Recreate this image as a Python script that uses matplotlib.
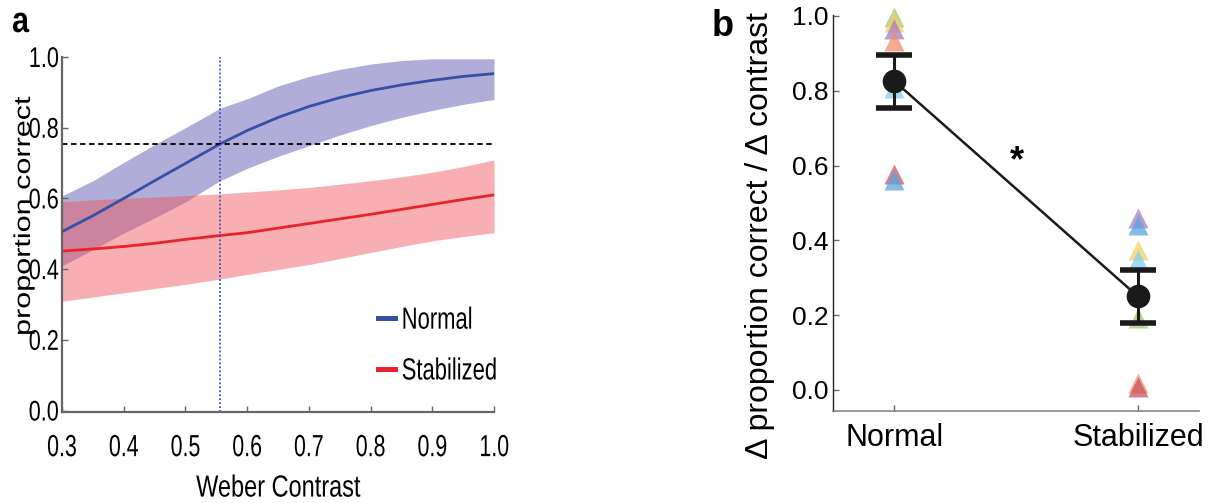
import numpy as np
import matplotlib
matplotlib.use("Agg")
import matplotlib.pyplot as plt
from matplotlib.patheffects import AbstractPathEffect
from matplotlib.transforms import Affine2D

plt.rcParams['font.family'] = ['Liberation Sans', 'DejaVu Sans']

# panel a: psychometric fits
contrast = [0.30, 0.35, 0.40, 0.45, 0.50, 0.556, 0.60, 0.65, 0.70, 0.75, 0.80, 0.85, 0.90, 0.95, 1.00]
normal_mean = [0.506, 0.551, 0.600, 0.650, 0.699, 0.754, 0.792, 0.829, 0.860, 0.885, 0.905, 0.921, 0.934, 0.945, 0.953]
normal_hi = [0.607, 0.650, 0.702, 0.752, 0.800, 0.855, 0.882, 0.918, 0.945, 0.965, 0.980, 0.990, 0.995, 0.995, 0.995]
normal_lo = [0.409, 0.455, 0.502, 0.545, 0.590, 0.650, 0.685, 0.719, 0.749, 0.779, 0.806, 0.829, 0.849, 0.866, 0.880]
stab_mean = [0.451, 0.457, 0.464, 0.473, 0.484, 0.495, 0.503, 0.516, 0.529, 0.542, 0.555, 0.569, 0.583, 0.597, 0.610]
stab_hi = [0.591, 0.596, 0.600, 0.604, 0.608, 0.613, 0.618, 0.624, 0.631, 0.640, 0.650, 0.661, 0.674, 0.690, 0.709]
stab_lo = [0.309, 0.321, 0.333, 0.345, 0.357, 0.372, 0.385, 0.399, 0.413, 0.430, 0.447, 0.464, 0.480, 0.492, 0.503]
threshold = 0.755
thr_contrast = 0.556

# panel b: slopes per subject
conditions = ['Normal', 'Stabilized']
subj_colors = ['#9fcb6b', '#f3cf6a', '#a97cc2', '#ef8f6b', '#7fd0ef', '#c85563', '#5ca5dc']
slope_normal = [0.997, 0.984, 0.966, 0.934, 0.807, 0.577, 0.561]
slope_stab = [0.192, 0.374, 0.459, 0.019, 0.347, 0.009, 0.441]
group_mean = [0.826, 0.250]
err_hi = [0.895, 0.322]
err_lo = [0.754, 0.178]


class Squeeze(AbstractPathEffect):
    # narrow the glyphs (panel a text is condensed in the original)
    def __init__(self, sx=1.0, sy=1.0, anchor='center'):
        super().__init__()
        self.sx, self.sy, self.anchor = sx, sy, anchor

    def draw_path(self, renderer, gc, tpath, affine, rgbFace=None):
        ext = tpath.get_extents()
        if self.anchor == 'center':
            cx = (ext.x0 + ext.x1) / 2
        elif self.anchor == 'right':
            cx = ext.x1
        else:
            cx = 0
        sq = Affine2D().translate(-cx, 0).scale(self.sx, self.sy).translate(cx, 0)
        renderer.draw_path(gc, tpath, sq + affine, rgbFace)


fig = plt.figure(figsize=(12.11, 5.03), dpi=100)

# ---- panel a
ax = fig.add_axes([0.0512, 0.1817, 0.3568, 0.705])
ax.fill_between(contrast, normal_lo, normal_hi, color='#5b57b0', alpha=0.48, lw=0)
ax.fill_between(contrast, stab_lo, stab_hi, color='#ee4f57', alpha=0.45, lw=0)
ax.plot(contrast, normal_mean, color='#3550a5', lw=2, label='Normal')
ax.plot(contrast, stab_mean, color='#e8242a', lw=2, label='Stabilized')
ax.axhline(threshold, color='black', lw=1.3, ls=(0, (3, 2)))
ax.axvline(thr_contrast, color='#3a55c0', lw=1.3, ls=(0, (1, 1.2)))
ax.set_xlim(0.3, 1.0)
ax.set_ylim(-0.003, 1.0)
ax.set_xticks(np.arange(0.3, 1.01, 0.1))
ax.set_yticks(np.arange(0, 1.01, 0.2))
ax.xaxis.set_major_formatter(matplotlib.ticker.FormatStrFormatter('%.1f'))
ax.yaxis.set_major_formatter(matplotlib.ticker.FormatStrFormatter('%.1f'))
for s in ['top', 'right']:
    ax.spines[s].set_visible(False)
for s in ['left', 'bottom']:
    ax.spines[s].set_color('#666666')
    ax.spines[s].set_linewidth(1.6)
ax.tick_params(direction='in', length=4, width=1, color='#666666')
ax.tick_params(axis='x', pad=15.5, labelsize=22)
ax.tick_params(axis='y', pad=2, labelsize=20.5)
for t in ax.get_xticklabels():
    t.set_path_effects([Squeeze(sx=0.70)])
for t in ax.get_yticklabels():
    t.set_path_effects([Squeeze(sx=0.76, anchor='right')])
ax.set_xlabel('Weber Contrast', fontsize=22, labelpad=7.5,
              path_effects=[Squeeze(sx=0.77)])
ax.set_ylabel('proportion correct', fontsize=22, path_effects=[Squeeze(sy=0.75)])
ax.yaxis.set_label_coords(-0.058, 0.55)
leg = ax.legend(loc='upper left', bbox_to_anchor=(0.731, 0.2987), frameon=False,
                fontsize=22, handlelength=0.56, handletextpad=0.22,
                labelspacing=0.68, borderpad=0, borderaxespad=0)
for h in leg.get_lines():
    h.set_linewidth(3.6)
for t in leg.get_texts():
    t.set_path_effects([Squeeze(sx=0.72, anchor='left')])

# ---- panel b
bx = fig.add_axes([0.688, 0.183, 0.302, 0.787])
xpos = np.arange(len(conditions))
for c, a, b in zip(subj_colors, slope_normal, slope_stab):
    bx.plot(xpos, [a, b], ls='none', marker='^', ms=14.5, color=c, alpha=0.75,
            mec='none', clip_on=False)
bx.plot(xpos, group_mean, color='#1a1a1a', lw=1.8)
yerr = [np.array(group_mean) - np.array(err_lo), np.array(err_hi) - np.array(group_mean)]
bx.errorbar(xpos, group_mean, yerr=yerr, fmt='o', color='#1a1a1a', ms=16,
            elinewidth=2.2, capsize=13, capthick=4)
bx.text(0.504, 0.61, '*', ha='center', va='center', fontsize=26, fontweight='bold')
bx.set_xlim(-0.25, 1.25)
bx.set_ylim(-0.056, 1.002)
bx.set_xticks(xpos)
bx.set_xticklabels(conditions, fontsize=22)
bx.set_yticks(np.arange(0, 1.01, 0.2))
bx.yaxis.set_major_formatter(matplotlib.ticker.FormatStrFormatter('%.1f'))
for s in ['top', 'right']:
    bx.spines[s].set_visible(False)
bx.spines['left'].set_color('#222222')
bx.spines['bottom'].set_color('#888888')
bx.spines['left'].set_linewidth(1.0)
bx.spines['bottom'].set_linewidth(1.2)
bx.tick_params(direction='in', length=4, width=1, color='#666666')
bx.tick_params(axis='x', pad=9)
bx.tick_params(axis='y', pad=3.5, labelsize=19)
bx.set_ylabel('\u0394 proportion correct / \u0394 contrast', fontsize=23)
bx.yaxis.set_label_coords(-0.158, 0.444)

fig.text(12 / 1211, 1 - 32 / 503, 'a', fontsize=26, fontweight='bold', va='baseline',
         path_effects=[Squeeze(sx=0.85, anchor='left')])
fig.text(712 / 1211, 1 - 36 / 503, 'b', fontsize=26, fontweight='bold', va='baseline')

fig.savefig('out.png', dpi=100)
